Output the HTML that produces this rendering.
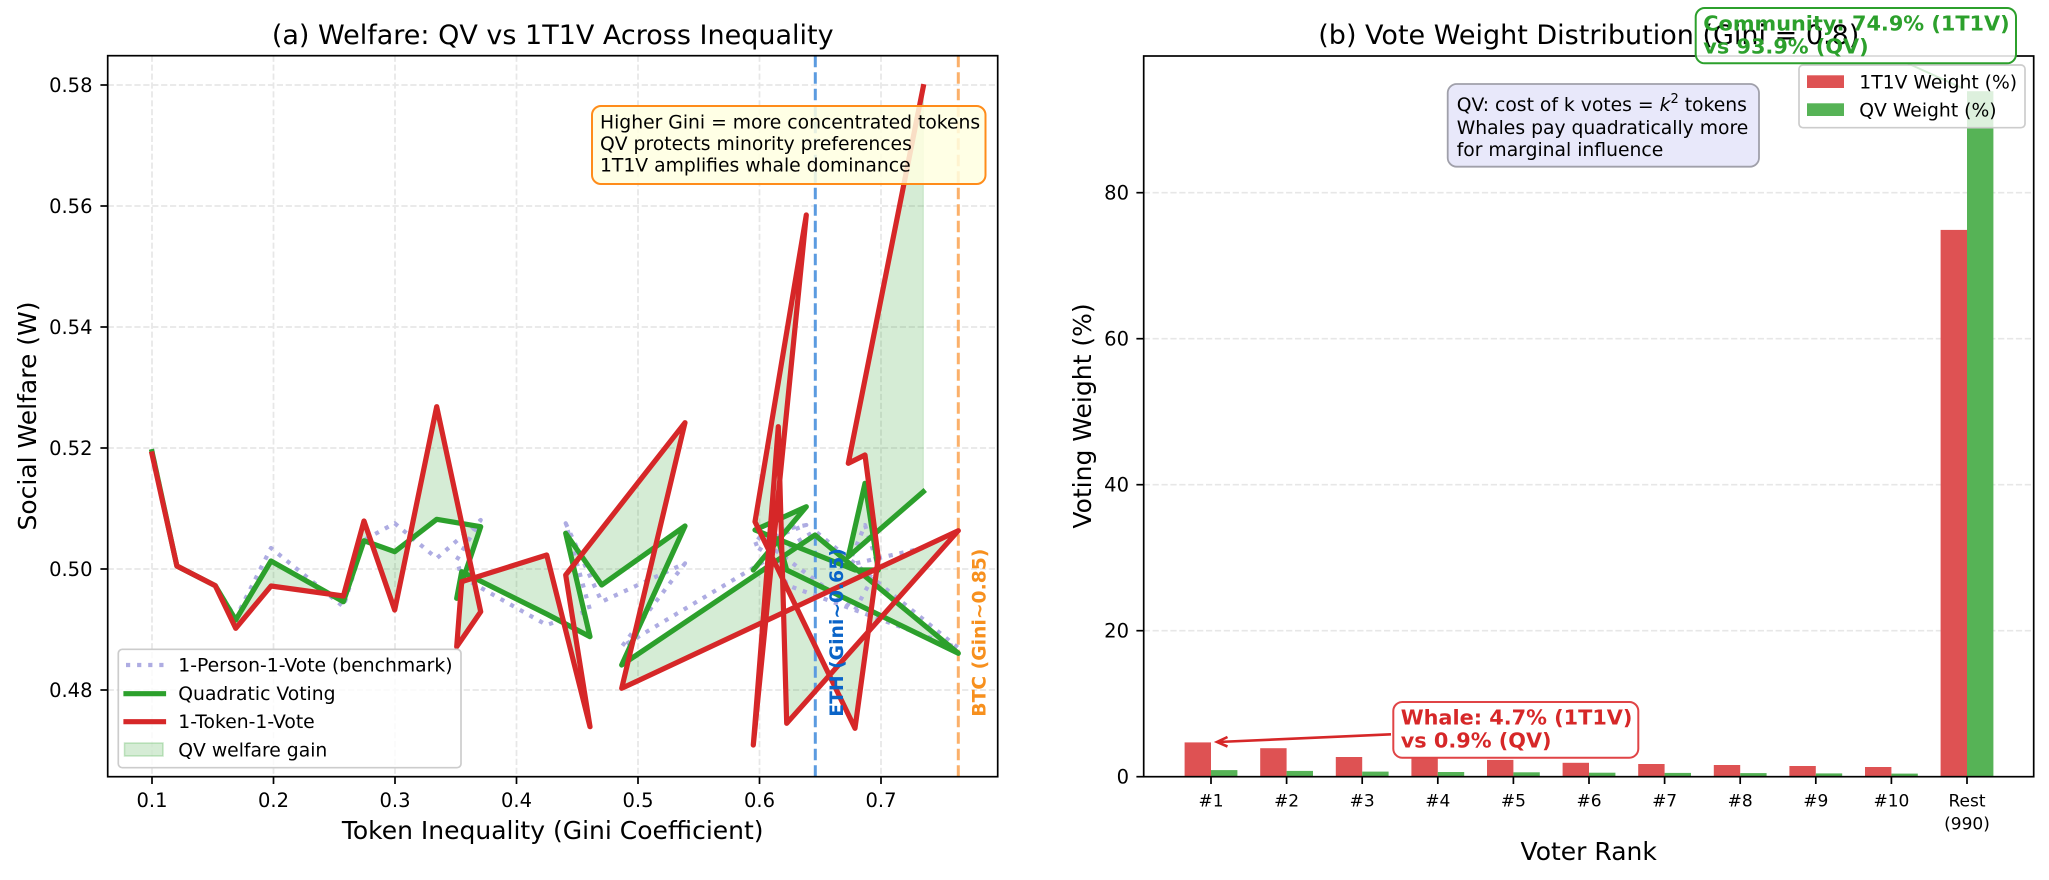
<!DOCTYPE html>
<html>
<head>
<meta charset="utf-8">
<style>
html,body{margin:0;padding:0;background:#fff;}
svg{display:block;}
text{font-family:"DejaVu Sans","Liberation Sans",sans-serif;}
</style>
</head>
<body>
<svg width="2049" height="880" viewBox="0 0 2049 880" xmlns="http://www.w3.org/2000/svg">
<rect x="0" y="0" width="2049" height="880" fill="#fff"/>
<defs>
<clipPath id="cl"><rect x="107.7" y="55.7" width="890" height="721"/></clipPath>
<clipPath id="cr"><rect x="1143.7" y="56" width="890" height="720.7"/></clipPath>
</defs>

<!-- ============ LEFT PANEL ============ -->
<g stroke="#e7e7e7" stroke-width="1.7" stroke-dasharray="6.2 2.7" fill="none">
<line x1="152" y1="55.7" x2="152" y2="776.7"/>
<line x1="273.5" y1="55.7" x2="273.5" y2="776.7"/>
<line x1="395" y1="55.7" x2="395" y2="776.7"/>
<line x1="516.5" y1="55.7" x2="516.5" y2="776.7"/>
<line x1="638" y1="55.7" x2="638" y2="776.7"/>
<line x1="759.5" y1="55.7" x2="759.5" y2="776.7"/>
<line x1="881" y1="55.7" x2="881" y2="776.7"/>
<line x1="107.7" y1="690" x2="997.7" y2="690"/>
<line x1="107.7" y1="569" x2="997.7" y2="569"/>
<line x1="107.7" y1="448" x2="997.7" y2="448"/>
<line x1="107.7" y1="327" x2="997.7" y2="327"/>
<line x1="107.7" y1="206" x2="997.7" y2="206"/>
<line x1="107.7" y1="85" x2="997.7" y2="85"/>
</g>

<g clip-path="url(#cl)">
<!-- fill between -->
<polygon fill="rgba(44,160,44,0.2)" stroke="rgba(44,160,44,0.2)" stroke-width="1" fill-rule="nonzero"
points="152,451.7 176.9,566 215.3,585.7 235.7,620 271,561 343.4,601.7 364,540.7 394.7,551.7 436.7,519.3 480.7,526.7 456.7,598.3 461.7,571.7 546.7,614 590,636.7 565.7,533.3 601.7,585 685,526 621.7,665 815,535 958.3,653.3 786.7,570 778.3,540 753.3,570 806.3,506.7 755,530 855,570 878.3,570 865,483.3 848.3,556.7 923.3,491.7 923.3,86.7 848.3,463.3 865,455 878.3,558 855,728.3 755,521.7 806.3,215 753.3,745 778.3,426.7 786.7,723.3 958.3,530.7 815,597.8 621.7,688.3 685,422.7 601.7,529 565.7,575 590,726.7 546.7,555 461.7,581.7 456.7,646.7 480.7,611.7 436.7,406.7 394.7,610 364,521 343.4,596 271,586 235.7,628.3 215.3,585.7 176.9,566 152,454"/>

<!-- vertical reference lines -->
<line x1="815.3" y1="55.7" x2="815.3" y2="776.7" stroke="#5b9be0" stroke-width="3" stroke-dasharray="11.5 5"/>
<line x1="958.3" y1="55.7" x2="958.3" y2="776.7" stroke="#fbb06a" stroke-width="3" stroke-dasharray="11.5 5"/>

<!-- 1P1V dotted -->
<polyline fill="none" stroke="#aeacE2" stroke-width="4.2" stroke-dasharray="4.2 6.9" stroke-linejoin="round"
points="152,449 176.9,566 215.3,585.7 235.7,618 271,548 343.4,606.7 364,540 394.7,523.3 436.7,558.3 480.7,520 456.7,560 461.7,577 546.7,625 590,610 565.7,523.3 601.7,601.7 685,563.3 621.7,646.7 815,531 958.3,648 786.7,585 778.3,560 753.3,545 806.3,525 755,535 855,610 878.3,567 865,525 848.3,565 923.3,548"/>
<!-- QV green -->
<polyline fill="none" stroke="#2ca02c" stroke-width="5.2" stroke-linejoin="round" stroke-linecap="square"
points="152,451.7 176.9,566 215.3,585.7 235.7,620 271,561 343.4,601.7 364,540.7 394.7,551.7 436.7,519.3 480.7,526.7 456.7,598.3 461.7,571.7 546.7,614 590,636.7 565.7,533.3 601.7,585 685,526 621.7,665 815,535 958.3,653.3 786.7,570 778.3,540 753.3,570 806.3,506.7 755,530 855,570 878.3,570 865,483.3 848.3,556.7 923.3,491.7"/>
<!-- 1T1V red -->
<polyline fill="none" stroke="#d62728" stroke-width="5.2" stroke-linejoin="round" stroke-linecap="square"
points="152,454 176.9,566 215.3,585.7 235.7,628.3 271,586 343.4,596 364,521 394.7,610 436.7,406.7 480.7,611.7 456.7,646.7 461.7,581.7 546.7,555 590,726.7 565.7,575 601.7,529 685,422.7 621.7,688.3 815,597.8 958.3,530.7 786.7,723.3 778.3,426.7 753.3,745 806.3,215 755,521.7 855,728.3 878.3,558 865,455 848.3,463.3 923.3,86.7"/>
</g>

<!-- vertical labels -->
<text transform="translate(843,716.7) rotate(-90)" font-size="18.75" font-weight="bold" fill="#0a64c8">ETH (Gini~0.65)</text>
<text transform="translate(985.5,716.7) rotate(-90)" font-size="18.75" font-weight="bold" fill="#f7901e">BTC (Gini~0.85)</text>

<!-- annotation box left -->
<rect x="592" y="106" width="393.5" height="78" rx="9" ry="9" fill="#ffffe0" fill-opacity="0.85" stroke="#ff8c1a" stroke-width="2"/>
<text x="600" y="128.3" font-size="18.75" fill="#000">Higher Gini = more concentrated tokens</text>
<text x="600" y="150" font-size="18.75" fill="#000">QV protects minority preferences</text>
<text x="600" y="171.7" font-size="18.75" fill="#000">1T1V amplifies whale dominance</text>

<!-- left legend -->
<rect x="118.3" y="649.3" width="342.7" height="118.4" rx="4" ry="4" fill="#fff" fill-opacity="0.8" stroke="#cccccc" stroke-width="1.7"/>
<line x1="126" y1="665" x2="163.5" y2="665" stroke="#aeacE2" stroke-width="4.2" stroke-dasharray="4.2 6.9"/>
<line x1="126" y1="693.7" x2="163.5" y2="693.7" stroke="#2ca02c" stroke-width="5.2" stroke-linecap="square"/>
<line x1="126" y1="721.7" x2="163.5" y2="721.7" stroke="#d62728" stroke-width="5.2" stroke-linecap="square"/>
<rect x="124.5" y="743" width="38.5" height="13" fill="rgba(44,160,44,0.2)" stroke="rgba(44,160,44,0.25)" stroke-width="1.5"/>
<text x="178.3" y="671.5" font-size="18.75">1-Person-1-Vote (benchmark)</text>
<text x="178.3" y="700.2" font-size="18.75">Quadratic Voting</text>
<text x="178.3" y="728.2" font-size="18.75">1-Token-1-Vote</text>
<text x="178.3" y="756.5" font-size="18.75">QV welfare gain</text>

<!-- left axes frame & ticks -->
<rect x="107.7" y="55.7" width="890" height="721" fill="none" stroke="#000" stroke-width="1.7"/>
<g stroke="#000" stroke-width="1.7">
<line x1="152" y1="776.7" x2="152" y2="784"/>
<line x1="273.5" y1="776.7" x2="273.5" y2="784"/>
<line x1="395" y1="776.7" x2="395" y2="784"/>
<line x1="516.5" y1="776.7" x2="516.5" y2="784"/>
<line x1="638" y1="776.7" x2="638" y2="784"/>
<line x1="759.5" y1="776.7" x2="759.5" y2="784"/>
<line x1="881" y1="776.7" x2="881" y2="784"/>
<line x1="100.4" y1="690" x2="107.7" y2="690"/>
<line x1="100.4" y1="569" x2="107.7" y2="569"/>
<line x1="100.4" y1="448" x2="107.7" y2="448"/>
<line x1="100.4" y1="327" x2="107.7" y2="327"/>
<line x1="100.4" y1="206" x2="107.7" y2="206"/>
<line x1="100.4" y1="85" x2="107.7" y2="85"/>
</g>
<g font-size="19.5" text-anchor="middle" fill="#000">
<text x="152" y="807">0.1</text>
<text x="273.5" y="807">0.2</text>
<text x="395" y="807">0.3</text>
<text x="516.5" y="807">0.4</text>
<text x="638" y="807">0.5</text>
<text x="759.5" y="807">0.6</text>
<text x="881" y="807">0.7</text>
</g>
<g font-size="19.5" text-anchor="end" fill="#000">
<text x="92.5" y="697">0.48</text>
<text x="92.5" y="576">0.50</text>
<text x="92.5" y="455">0.52</text>
<text x="92.5" y="334">0.54</text>
<text x="92.5" y="213">0.56</text>
<text x="92.5" y="92">0.58</text>
</g>
<text x="552.7" y="44" font-size="27" text-anchor="middle">(a) Welfare: QV vs 1T1V Across Inequality</text>
<text x="552.7" y="839" font-size="25" text-anchor="middle">Token Inequality (Gini Coefficient)</text>
<text transform="translate(36,416) rotate(-90)" font-size="25" text-anchor="middle">Social Welfare (W)</text>

<!-- ============ RIGHT PANEL ============ -->
<g stroke="#e7e7e7" stroke-width="1.7" stroke-dasharray="6.2 2.7">
<line x1="1143.7" y1="630.7" x2="2033.7" y2="630.7"/>
<line x1="1143.7" y1="484.7" x2="2033.7" y2="484.7"/>
<line x1="1143.7" y1="338.7" x2="2033.7" y2="338.7"/>
<line x1="1143.7" y1="192.7" x2="2033.7" y2="192.7"/>
</g>

<g clip-path="url(#cr)">
<!-- red bars (1T1V) -->
<g fill="#de5253">
<rect x="1184.6" y="742.4" width="26.4" height="34.3"/>
<rect x="1260.2" y="748.2" width="26.4" height="28.5"/>
<rect x="1335.8" y="757.0" width="26.4" height="19.7"/>
<rect x="1411.4" y="757.7" width="26.4" height="19"/>
<rect x="1487.0" y="759.9" width="26.4" height="16.8"/>
<rect x="1562.6" y="762.8" width="26.4" height="13.9"/>
<rect x="1638.2" y="764.0" width="26.4" height="12.7"/>
<rect x="1713.8" y="765.0" width="26.4" height="11.7"/>
<rect x="1789.4" y="766.0" width="26.4" height="10.7"/>
<rect x="1865.0" y="767.0" width="26.4" height="9.7"/>
<rect x="1940.6" y="229.9" width="26.4" height="546.8"/>
</g>
<!-- green bars (QV) -->
<g fill="#56b356">
<rect x="1211" y="770.1" width="26.4" height="6.6"/>
<rect x="1286.6" y="770.9" width="26.4" height="5.8"/>
<rect x="1362.2" y="771.6" width="26.4" height="5.1"/>
<rect x="1437.8" y="772.0" width="26.4" height="4.7"/>
<rect x="1513.4" y="772.3" width="26.4" height="4.4"/>
<rect x="1589.0" y="772.7" width="26.4" height="4"/>
<rect x="1664.6" y="772.9" width="26.4" height="3.8"/>
<rect x="1740.2" y="773.1" width="26.4" height="3.6"/>
<rect x="1815.8" y="773.4" width="26.4" height="3.3"/>
<rect x="1891.4" y="773.6" width="26.4" height="3.1"/>
<rect x="1967.0" y="91.2" width="26.4" height="685.5"/>
</g>
</g>

<!-- community arrow (faint, behind legend) -->
<line x1="1908" y1="63.5" x2="1962" y2="88" stroke="#2ca02c" stroke-width="2"/>

<!-- QV annotation box -->
<rect x="1447.7" y="84" width="311.3" height="82.7" rx="9" ry="9" fill="#e6e6fa" fill-opacity="0.9" stroke="#a0a0aa" stroke-width="1.8"/>
<text x="1456.7" y="111" font-size="18.75">QV: cost of k votes = <tspan font-style="italic">k</tspan><tspan font-size="13" dy="-8">2</tspan><tspan dy="8"> tokens</tspan></text>
<text x="1456.7" y="134" font-size="18.75">Whales pay quadratically more</text>
<text x="1456.7" y="156" font-size="18.75">for marginal influence</text>

<!-- right legend -->
<rect x="1799" y="65" width="226" height="62.7" rx="4" ry="4" fill="#fff" fill-opacity="0.8" stroke="#cccccc" stroke-width="1.7"/>
<rect x="1807" y="75.3" width="37" height="12.7" fill="#de5253"/>
<rect x="1807" y="103.3" width="37" height="12.7" fill="#56b356"/>
<text x="1859.3" y="88.3" font-size="18.75">1T1V Weight (%)</text>
<text x="1859.3" y="116.5" font-size="18.75">QV Weight (%)</text>

<!-- right axes frame & ticks -->
<rect x="1143.7" y="56" width="890" height="720.7" fill="none" stroke="#000" stroke-width="1.7"/>

<!-- community annotation box -->
<rect x="1695.7" y="8" width="320.3" height="55.3" rx="9" ry="9" fill="#fff" fill-opacity="0.85" stroke="#2ca02c" stroke-width="2"/>

<text x="1588.8" y="44" font-size="27" text-anchor="middle">(b) Vote Weight Distribution (Gini = 0.8)</text>

<text x="1703.3" y="30.7" font-size="20.8" font-weight="bold" fill="#2ca02c">Community: 74.9% (1T1V)</text>
<text x="1703.3" y="53.3" font-size="20.8" font-weight="bold" fill="#2ca02c">vs 93.9% (QV)</text>

<g stroke="#000" stroke-width="1.7">
<line x1="1136.4" y1="776.7" x2="1143.7" y2="776.7"/>
<line x1="1136.4" y1="630.7" x2="1143.7" y2="630.7"/>
<line x1="1136.4" y1="484.7" x2="1143.7" y2="484.7"/>
<line x1="1136.4" y1="338.7" x2="1143.7" y2="338.7"/>
<line x1="1136.4" y1="192.7" x2="1143.7" y2="192.7"/>
<line x1="1211" y1="776.7" x2="1211" y2="784"/>
<line x1="1286.6" y1="776.7" x2="1286.6" y2="784"/>
<line x1="1362.2" y1="776.7" x2="1362.2" y2="784"/>
<line x1="1437.8" y1="776.7" x2="1437.8" y2="784"/>
<line x1="1513.4" y1="776.7" x2="1513.4" y2="784"/>
<line x1="1589" y1="776.7" x2="1589" y2="784"/>
<line x1="1664.6" y1="776.7" x2="1664.6" y2="784"/>
<line x1="1740.2" y1="776.7" x2="1740.2" y2="784"/>
<line x1="1815.8" y1="776.7" x2="1815.8" y2="784"/>
<line x1="1891.4" y1="776.7" x2="1891.4" y2="784"/>
<line x1="1967" y1="776.7" x2="1967" y2="784"/>
</g>
<g font-size="19.5" text-anchor="end">
<text x="1129" y="783.7">0</text>
<text x="1129" y="637.7">20</text>
<text x="1129" y="491.7">40</text>
<text x="1129" y="345.7">60</text>
<text x="1129" y="199.7">80</text>
</g>
<g font-size="17" text-anchor="middle">
<text x="1211" y="806.7">#1</text>
<text x="1286.6" y="806.7">#2</text>
<text x="1362.2" y="806.7">#3</text>
<text x="1437.8" y="806.7">#4</text>
<text x="1513.4" y="806.7">#5</text>
<text x="1589" y="806.7">#6</text>
<text x="1664.6" y="806.7">#7</text>
<text x="1740.2" y="806.7">#8</text>
<text x="1815.8" y="806.7">#9</text>
<text x="1891.4" y="806.7">#10</text>
<text x="1967" y="806.7">Rest</text>
<text x="1967" y="829.3">(990)</text>
</g>
<text x="1588.7" y="860" font-size="25" text-anchor="middle">Voter Rank</text>
<text transform="translate(1091,416) rotate(-90)" font-size="25" text-anchor="middle">Voting Weight (%)</text>

<!-- whale annotation -->
<line x1="1391" y1="734.3" x2="1218" y2="742" stroke="#d62728" stroke-width="2.6"/>
<polyline points="1227.5,737 1217,742 1227.5,746.5" fill="none" stroke="#d62728" stroke-width="2.6" stroke-linejoin="miter"/>
<rect x="1393.3" y="702" width="245" height="55.7" rx="9" ry="9" fill="#fff" fill-opacity="0.9" stroke="#e04446" stroke-width="2"/>
<text x="1400.7" y="724.3" font-size="20.8" font-weight="bold" fill="#d62728">Whale: 4.7% (1T1V)</text>
<text x="1400.7" y="747.7" font-size="20.8" font-weight="bold" fill="#d62728">vs 0.9% (QV)</text>
</svg>
</body>
</html>
